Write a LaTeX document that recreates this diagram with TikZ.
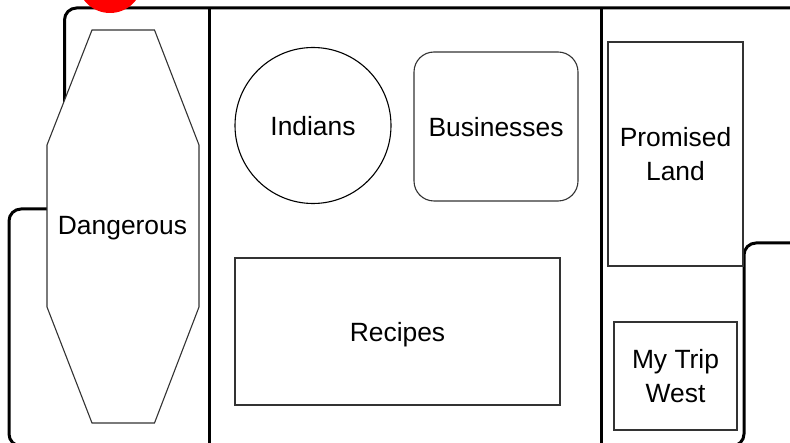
\documentclass[tikz,border=0pt]{standalone}
\usepackage{fontspec}
\setmainfont{Liberation Sans}
\begin{document}
\begin{tikzpicture}[x=1pt,y=-1pt,
  outline/.style={line width=3pt, black},
  shapeline/.style={line width=1.1pt, draw=black!80, fill=white},
  label/.style={font=\fontsize{26.4}{34}\selectfont, align=center, inner sep=0pt},
  oneline/.style={label, text depth=0pt}
]
\useasboundingbox (0,0) rectangle (790,443);
\clip (0,0) rectangle (790,443);
% outline
\draw[outline, rounded corners=12pt] (9,446) -- (9,209) -- (64.5,209) -- (64.5,8) -- (805,8) -- (805,243) -- (744,243) -- (744,446) -- cycle;
% dividers
\coordinate (d1t) at (209,8);
\coordinate (d1b) at (209,446);
\coordinate (d2t) at (601.5,8);
\coordinate (d2b) at (601.5,446);
\draw[outline] (d1t) -- (d1b);
\draw[outline] (d2t) -- (d2b);
% octagon
\draw[shapeline] (92,30) -- (154.5,30) -- (199,145) -- (199,307) -- (154.5,423) -- (92,423) -- (47,307) -- (47,145) -- cycle;
\node[oneline] (dang) at (122.5,225.5) {Dangerous};
% circle
\node[circle, shapeline, draw=black, minimum size=156pt, inner sep=0pt, oneline] (ind) at (313,125.5) {Indians};
% rounded rectangle
\node[shapeline, rounded corners=20pt, minimum width=164pt, minimum height=149pt, oneline] (bus) at (496,126.5) {Businesses};
% recipes
\node[shapeline, minimum width=325pt, minimum height=147pt, oneline] (rec) at (397.5,331.5) {Recipes};
% promised land
\node[shapeline, minimum width=135pt, minimum height=224pt, label] (prom) at (675.5,154) {Promised\\Land};
% my trip west
\node[shapeline, minimum width=123pt, minimum height=108pt, label] (trip) at (675.5,376) {My Trip\\West};
% red mark
\fill[red] (110,-19.5) circle[radius=32.5pt];
\end{tikzpicture}
\end{document}
